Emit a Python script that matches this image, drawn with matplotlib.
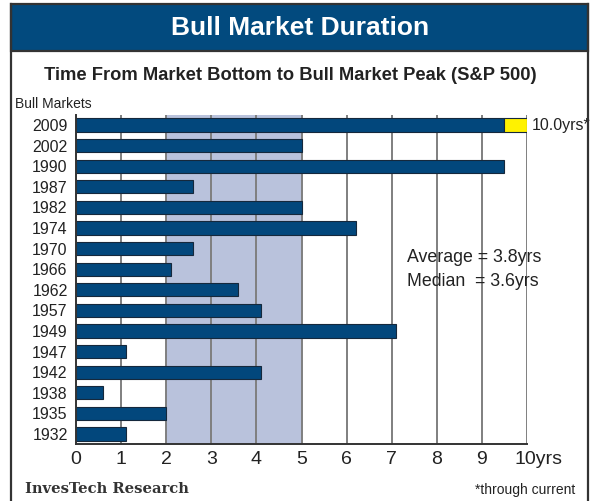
import matplotlib
matplotlib.use("Agg")
import matplotlib.pyplot as plt
from matplotlib.patches import Rectangle
from matplotlib.lines import Line2D
from matplotlib import font_manager

# ---- data ----
years = ["1932", "1935", "1938", "1942", "1947", "1949", "1957", "1962",
         "1966", "1970", "1974", "1982", "1987", "1990", "2002", "2009"]
durations = [1.1, 2.0, 0.6, 4.1, 1.1, 7.1, 4.1, 3.6,
             2.1, 2.6, 6.2, 5.0, 2.6, 9.5, 5.0, 9.5]
current_extra = 0.5          # yellow extension of the 2009 bar (to 10.0 yrs)
xticks = list(range(0, 11))
xticklabels = ["0", "1", "2", "3", "4", "5", "6", "7", "8", "9", "10yrs"]
shade_range = (2, 5)

names = {f.name for f in font_manager.fontManager.ttflist}
NARROW = "Liberation Sans Narrow" if "Liberation Sans Narrow" in names else "Liberation Sans"
SANS = [NARROW, "DejaVu Sans"]

BAR = "#02477c"
EDGE = "#15283c"
SHADE = "#b9c2dc"
GRID = "#7f7f7f"
TXT = "#222222"

fig = plt.figure(figsize=(5.95, 5.01), dpi=100)
W, H = 595, 501

def fx(px):
    return px / W

def fy(py):
    return 1 - py / H

# outer frame
fig.add_artist(Line2D([fx(11), fx(11)], [fy(4), 0], color="#333333", lw=1.6))
fig.add_artist(Line2D([fx(588), fx(588)], [fy(4), 0], color="#333333", lw=1.6))
# header box
fig.add_artist(Rectangle((fx(11), fy(51)), fx(577), (51 - 4) / H,
                         facecolor="#024a7e", edgecolor="#333333", lw=1.6))
fig.text(fx(300), fy(28), "Bull Market Duration", color="white",
         family=SANS, fontsize=19, fontweight="bold", ha="center", va="center")
fig.text(fx(290), fy(75), "Time From Market Bottom to Bull Market Peak (S&P 500)",
         color=TXT, family=SANS, fontsize=13.2, fontweight="bold",
         ha="center", va="center")
fig.text(fx(15), fy(104), "Bull Markets", color=TXT, family=SANS,
         fontsize=10, ha="left", va="center")

ax = fig.add_axes([fx(76), fy(444), fx(451), (444 - 115) / H])
ypos = list(range(len(years)))
ax.axvspan(shade_range[0], shade_range[1], color=SHADE, zorder=0, lw=0)
for t in xticks[1:]:
    ax.axvline(t, color=GRID, lw=1.4, zorder=1)
ax.barh(ypos, durations, height=0.64, color=BAR, edgecolor=EDGE, lw=0.8, zorder=2)
ax.barh([ypos[-1]], [current_extra], left=[durations[-1]], height=0.64,
        color="#fff200", edgecolor=EDGE, lw=0.8, zorder=2)

ax.set_xlim(0, 10)
ax.set_ylim(-0.49, 15.49)
ax.set_xticks(xticks)
ax.set_xticklabels(xticklabels[:-1] + [""], family=SANS, fontsize=14, color=TXT)
ax.text(9.73, -0.49, xticklabels[-1], family=SANS, fontsize=14, color=TXT,
        ha="left", va="top", clip_on=False,
        transform=ax.transData + matplotlib.transforms.ScaledTranslation(0, -5 / 72, fig.dpi_scale_trans))
ax.set_yticks(ypos)
ax.set_yticklabels(years, family=SANS, fontsize=11.5, color=TXT)
ax.tick_params(axis="x", length=0, pad=5)
ax.tick_params(axis="y", length=0, pad=6)
ax.spines["top"].set_visible(False)
ax.spines["right"].set_visible(False)
ax.spines["left"].set_color("#333333")
ax.spines["bottom"].set_color("#333333")
ax.spines["left"].set_linewidth(1.4)
ax.spines["bottom"].set_linewidth(1.4)
ax.set_facecolor("white")

ax.text(10.1, ypos[-1], "10.0yrs*", family=SANS, fontsize=11.5, color=TXT,
        ha="left", va="center", clip_on=False)
ax.text(7.35, 8.55, "Average = 3.8yrs", family=SANS, fontsize=12.8, color=TXT,
        ha="left", va="center")
ax.text(7.35, 7.38, "Median  = 3.6yrs", family=SANS, fontsize=12.8, color=TXT,
        ha="left", va="center")

fig.text(fx(25), fy(489), "InvesTech Research", family=["DejaVu Serif"],
         fontsize=10.6, fontweight="bold", color="#333333", ha="left", va="center")
fig.text(fx(475), fy(490), "*through current", family=SANS, fontsize=10,
         color=TXT, ha="left", va="center")

fig.savefig("out.png", dpi=100)
